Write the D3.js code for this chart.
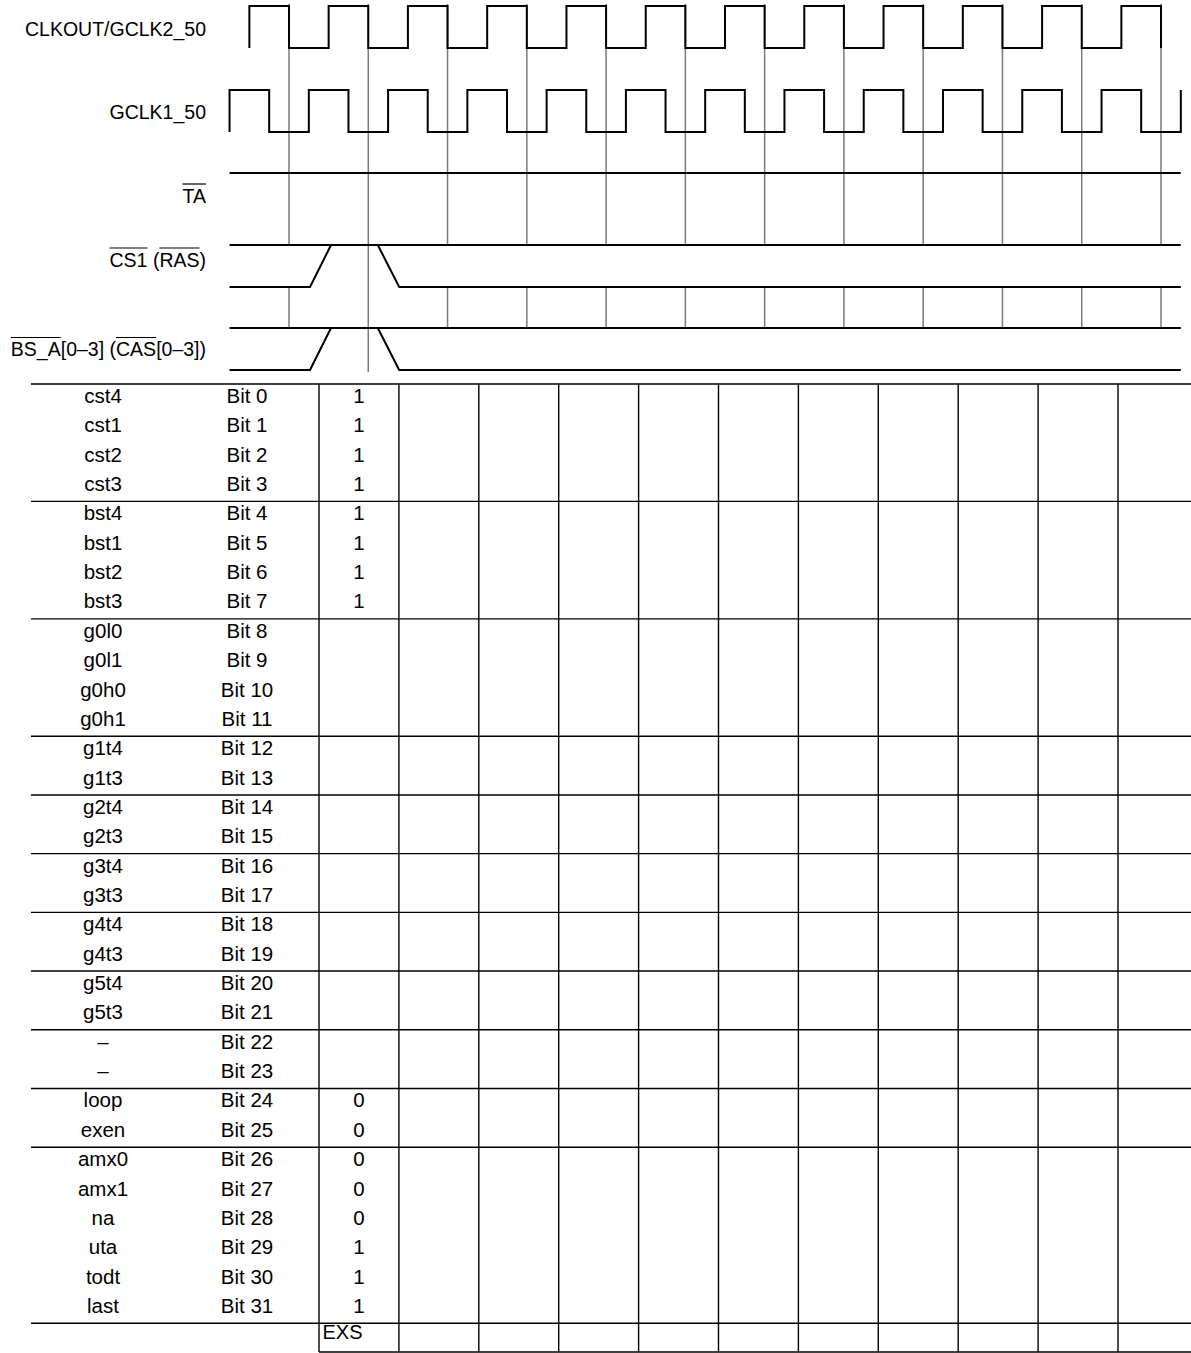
<!DOCTYPE html>
<html>
<head>
<meta charset="utf-8">
<script src="https://cdn.jsdelivr.net/npm/d3@7"></script>
<style>
  html, body { margin: 0; padding: 0; background: #fff; }
  svg { display: block; }
  text { font-family: "Liberation Sans", Arial, Helvetica, sans-serif; fill: #000; }
</style>
</head>
<body>
<svg id="chart" width="1191" height="1353"></svg>
<script>
// ---------------- DATA ----------------
// Signal labels (parts flagged "over" carry an overbar = active-low)
const signalLabels = [
  { id: "clkout", parts: [{ t: "CLKOUT/GCLK2_50", over: false }] },
  { id: "gclk1",  parts: [{ t: "GCLK1_50", over: false }] },
  { id: "ta",     parts: [{ t: "TA", over: true }] },
  { id: "cs1",    parts: [{ t: "CS1", over: true }, { t: " (", over: false }, { t: "RAS", over: true }, { t: ")", over: false }] },
  { id: "bsa",    parts: [{ t: "BS_A", over: true }, { t: "[0–3] (", over: false }, { t: "CAS", over: true }, { t: "[0–3])", over: false }] }
];

// Clock cycle reference lines (in clock-cycle units)
const cycleLines = [0, 1, 2, 3, 4, 5, 6, 7, 8, 9, 10, 11];
const fullCycleLine = 1;

// Clock edge times (cycle units); first edge is rising from low
const clkoutEdges = [-0.5, 0, 0.5, 1, 1.5, 2, 2.5, 3, 3.5, 4, 4.5, 5, 5.5, 6, 6.5, 7, 7.5, 8, 8.5, 9, 9.5, 10, 10.5, 11];
const gclk1Edges  = [-0.75, -0.25, 0.25, 0.75, 1.25, 1.75, 2.25, 2.75, 3.25, 3.75, 4.25, 4.75, 5.25, 5.75, 6.25, 6.75, 7.25, 7.75, 8.25, 8.75, 9.25, 9.75, 10.25, 10.75, 11.25];

// Span of the static / bus waveforms
const signalSpan = [-0.75, 11.25];
// CS1 / BS_A pulse: rise [start, end], fall [start, end]
const pulseRise = [0.265, 0.53];
const pulseFall = [1.12, 1.39];

// Table content
const fieldNames = ["cst4","cst1","cst2","cst3","bst4","bst1","bst2","bst3",
  "g0l0","g0l1","g0h0","g0h1","g1t4","g1t3","g2t4","g2t3",
  "g3t4","g3t3","g4t4","g4t3","g5t4","g5t3","–","–",
  "loop","exen","amx0","amx1","na","uta","todt","last"];
const bitLabels = ["Bit 0","Bit 1","Bit 2","Bit 3","Bit 4","Bit 5","Bit 6","Bit 7",
  "Bit 8","Bit 9","Bit 10","Bit 11","Bit 12","Bit 13","Bit 14","Bit 15",
  "Bit 16","Bit 17","Bit 18","Bit 19","Bit 20","Bit 21","Bit 22","Bit 23",
  "Bit 24","Bit 25","Bit 26","Bit 27","Bit 28","Bit 29","Bit 30","Bit 31"];
const firstColumnValues = ["1","1","1","1","1","1","1","1",
  "","","","","","","","",
  "","","","","","","","",
  "0","0","0","0","0","1","1","1"];
const groupBreaks = [0, 4, 8, 12, 14, 16, 18, 20, 22, 24, 26, 32];
const tableColumns = [0, 1, 2, 3, 4, 5, 6, 7, 8, 9, 10];
const footerLabel = "EXS";

// ---------------- DRAWING ----------------
const svg = d3.select("#chart");
const W = 1191, H = 1353;

const x = d3.scaleLinear().domain([0, 11]).range([289, 1161]);

// lane levels (high / low y)
const laneHigh = d3.scaleOrdinal().domain(["clkout","gclk1","ta","cs1","bsa"]).range([6, 90, 173, 245, 328]);
const laneLow  = d3.scaleOrdinal().domain(["clkout","gclk1","ta","cs1","bsa"]).range([48, 132, 215, 287, 370]);
const labelBaseline = d3.scaleOrdinal().domain(["clkout","gclk1","ta","cs1","bsa"]).range([36, 119, 202.5, 266.5, 356]);

// Gray cycle lines
const gridG = svg.append("g").attr("stroke", "#7a7a7a").attr("stroke-width", 1.5);
cycleLines.forEach(c => {
  const segs = c === fullCycleLine
    ? [[4, laneLow("bsa") + 2]]
    : [[4, laneHigh("cs1")], [laneLow("cs1"), laneHigh("bsa")]];
  segs.forEach(s => {
    gridG.append("line")
      .attr("x1", x(c)).attr("x2", x(c))
      .attr("y1", s[0]).attr("y2", s[1]);
  });
});

const wave = svg.append("g").attr("fill", "none").attr("stroke", "#000")
  .attr("stroke-width", 2).attr("stroke-linejoin", "miter");

function clockPath(edges, id) {
  const hi = laneHigh(id), lo = laneLow(id);
  const p = d3.path();
  p.moveTo(x(edges[0]), lo);
  let level = hi;
  p.lineTo(x(edges[0]), level);
  for (let i = 1; i < edges.length; i++) {
    p.lineTo(x(edges[i]), level);
    level = level === hi ? lo : hi;
    p.lineTo(x(edges[i]), level);
  }
  return p.toString();
}
wave.append("path").attr("d", clockPath(clkoutEdges, "clkout"));
wave.append("path").attr("d", clockPath(gclk1Edges, "gclk1"));

// TA static high
wave.append("line")
  .attr("x1", x(signalSpan[0])).attr("x2", x(signalSpan[1]))
  .attr("y1", laneHigh("ta")).attr("y2", laneHigh("ta"));

// CS1 and BS_A bus-style pulses
["cs1", "bsa"].forEach(id => {
  const hi = laneHigh(id), lo = laneLow(id);
  wave.append("line")
    .attr("x1", x(signalSpan[0])).attr("x2", x(signalSpan[1]))
    .attr("y1", hi).attr("y2", hi);
  const p1 = d3.path();
  p1.moveTo(x(signalSpan[0]), lo);
  p1.lineTo(x(pulseRise[0]), lo);
  p1.lineTo(x(pulseRise[1]), hi);
  wave.append("path").attr("d", p1.toString());
  const p2 = d3.path();
  p2.moveTo(x(pulseFall[0]), hi);
  p2.lineTo(x(pulseFall[1]), lo);
  p2.lineTo(x(signalSpan[1]), lo);
  wave.append("path").attr("d", p2.toString());
});

// Signal labels with overbars
const labelG = svg.append("g");
signalLabels.forEach(lbl => {
  const t = labelG.append("text")
    .attr("x", 206).attr("y", labelBaseline(lbl.id))
    .attr("text-anchor", "end")
    .style("font-size", "19.5px");
  lbl.parts.forEach(pt => t.append("tspan").text(pt.t));
  const node = t.node();
  let idx = 0;
  lbl.parts.forEach(pt => {
    if (pt.over) {
      const s = node.getStartPositionOfChar(idx).x;
      const e = node.getEndPositionOfChar(idx + pt.t.length - 1).x;
      labelG.append("line")
        .attr("x1", s).attr("x2", e)
        .attr("y1", labelBaseline(lbl.id) - 18.5).attr("y2", labelBaseline(lbl.id) - 18.5)
        .attr("stroke", "#000").attr("stroke-width", 1.2);
    }
    idx += pt.t.length;
  });
});

// ---------------- TABLE ----------------
const rowY = d3.scaleLinear().domain([0, 32]).range([384, 1323.3]);
const colX = d3.scaleLinear().domain([0, 10]).range([319, 1118]);
const tableBottom = 1352;

const tbl = svg.append("g").attr("stroke", "#000").attr("stroke-width", 1.4);
groupBreaks.forEach(r => {
  tbl.append("line").attr("x1", 31).attr("x2", W)
    .attr("y1", rowY(r)).attr("y2", rowY(r));
});
tbl.append("line").attr("x1", colX(0)).attr("x2", W)
  .attr("y1", tableBottom).attr("y2", tableBottom);
tableColumns.forEach(c => {
  tbl.append("line").attr("x1", colX(c)).attr("x2", colX(c))
    .attr("y1", rowY(0)).attr("y2", tableBottom);
});

const txt = svg.append("g").style("font-size", "20.5px").attr("text-anchor", "middle");
fieldNames.forEach((n, i) => {
  txt.append("text").attr("x", 103).attr("y", rowY(i) + 19).text(n);
});
bitLabels.forEach((b, i) => {
  txt.append("text").attr("x", 247).attr("y", rowY(i) + 19).text(b);
});
firstColumnValues.forEach((v, i) => {
  if (v !== "") txt.append("text").attr("x", (colX(0) + colX(1)) / 2).attr("y", rowY(i) + 19).text(v);
});
svg.append("text").attr("x", colX(0) + 3.5).attr("y", rowY(32) + 16)
  .style("font-size", "20px").text(footerLabel);
</script>
</body>
</html>
